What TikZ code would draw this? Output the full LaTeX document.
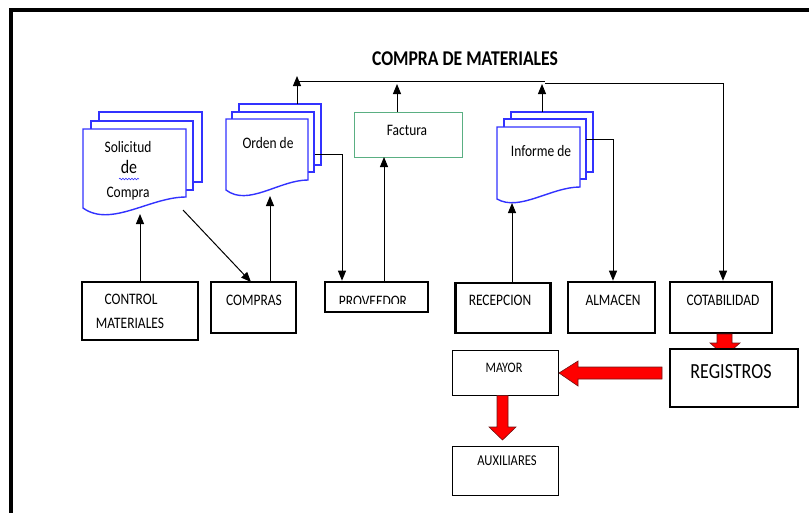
\documentclass[tikz,border=0pt]{standalone}
\usepackage{fontspec}
\setmainfont{Carlito}[FakeStretch=0.84]
\usetikzlibrary{arrows.meta,decorations.pathmorphing}
\definecolor{pageblue}{RGB}{50,50,255}
\definecolor{factgreen}{RGB}{90,175,130}
\definecolor{redline}{RGB}{110,20,20}
\tikzset{
  blk/.style={draw=black,line width=2.6pt,fill=white,inner sep=0pt},
  thinbox/.style={draw=black,line width=0.9pt,fill=white,inner sep=0pt},
  greenbox/.style={draw=factgreen,line width=1pt,fill=white,inner sep=0pt},
  pg/.style={draw=pageblue,line width=1.4pt,fill=white},
  conn/.style={line width=1pt,black},
  arr/.style={conn,-{Triangle[length=10pt,width=8pt]}},
  redarr/.style={fill=red,draw=redline,line width=0.6pt},
  lbl/.style={inner sep=0pt,anchor=base,font=\fontsize{16}{18}\selectfont},
}
\newcommand{\frontpg}[6]{% x1 yt x2 yR yL c
  \draw[pg] (#1,#2) -- (#3,#2) -- (#3,#4)
    .. controls ({#3-0.35*(#3-#1)},#4) and ({#1+0.27*(#3-#1)},#6) .. (#1,#5) -- cycle;}
\begin{document}
\begin{tikzpicture}[x=1pt,y=-1pt]
\useasboundingbox (0,0) rectangle (809,512);
% outer frame
\draw[line width=4pt] (11,514) -- (11,9.5) -- (811,9.5);
% title
\node[lbl,font=\fontsize{21}{24}\selectfont\bfseries] (title) at (465,65) {COMPRA DE MATERIALES};

% Solicitud de Compra
\draw[pg] (99,112) rectangle (202,182);
\draw[pg] (91,121) rectangle (193,190);
\frontpg{83}{129}{186}{197}{208}{228}
\node[lbl] (sol1) at (128,152) {Solicitud};
\node[lbl,font=\fontsize{19}{20}\selectfont] (sol2) at (129,173) {de};
\draw[pageblue,line width=0.6pt,decorate,decoration={snake,amplitude=0.8pt,segment length=3pt}] (119,179) -- (139,179);
\node[lbl] (sol3) at (128,197) {Compra};

% Orden de
\draw[pg] (239,104) rectangle (321,165);
\draw[pg] (232,112) rectangle (314,172);
\frontpg{226}{119}{308}{180}{190}{207}
\node[lbl] (ord) at (268,148) {Orden de};

% Factura
\node[greenbox,minimum width=108pt,minimum height=45pt] (factura) at (408,134.5) {};
\node[lbl] (facttxt) at (407,135) {Factura};

% Informe de
\draw[pg] (511,112) rectangle (593,172);
\draw[pg] (504,119) rectangle (586,179);
\frontpg{497}{127}{580}{187}{199}{212}
\node[lbl] (inf) at (541,156) {Informe de};

% bottom boxes
\node[blk,minimum width=116pt,minimum height=58pt] (control) at (140,311) {};
\node[lbl] (ctrl1) at (131,304) {CONTROL};
\node[lbl] (ctrl2) at (130,328) {MATERIALES};
\node[blk,minimum width=85pt,minimum height=51pt] (compras) at (253.5,307.5) {};
\node[lbl] (comptxt) at (254,305) {COMPRAS};
\node[blk,minimum width=103pt,minimum height=30pt] (proveedor) at (376.5,297) {};
\begin{scope}
  \clip (325,285) rectangle (428,303);
  \node[lbl] (provtxt) at (373,306) {PROVEEDOR};
\end{scope}
\node[blk,minimum width=95pt,minimum height=50pt] (recepcion) at (503,308) {};
\node[lbl] (rectxt) at (500,305) {RECEPCION};
\node[blk,minimum width=87pt,minimum height=51pt] (almacen) at (611.5,307.5) {};
\node[lbl] (almtxt) at (613,305) {ALMACEN};
\node[blk,minimum width=102pt,minimum height=51pt] (cotab) at (721,307.5) {};
\node[lbl] (cottxt) at (723,305) {COTABILIDAD};

% red arrow cotab -> registros
\draw[redarr] (717,334) -- (732,334) -- (732,343) -- (740,343) -- (725,356) -- (710,343) -- (717,343) -- cycle;
\node[blk,minimum width=128pt,minimum height=58pt] (registros) at (734,378) {};
\node[lbl,font=\fontsize{21.5}{24}\selectfont] (regtxt) at (731,378) {REGISTROS};

\node[thinbox,minimum width=106pt,minimum height=45pt] (mayor) at (505,372.5) {};
\node[lbl,font=\fontsize{14.5}{16}\selectfont] (maytxt) at (504,372) {MAYOR};
\node[thinbox,minimum width=106pt,minimum height=49pt] (aux) at (505,470.5) {};
\node[lbl,font=\fontsize{15}{16}\selectfont] (auxtxt) at (507,465) {AUXILIARES};

% red arrow registros -> mayor
\draw[redarr] (662,367) -- (662,379) -- (578,379) -- (578,386) -- (559,373) -- (578,361) -- (578,367) -- cycle;
% red arrow mayor -> auxiliares
\draw[redarr] (497,395.5) -- (508,395.5) -- (508,427) -- (516,427) -- (502.5,440) -- (489,427) -- (497,427) -- cycle;

% coordinates for connectors
\coordinate (solbot) at (140,214);
\coordinate (soldiag) at (183,210);
\coordinate (compin) at (251,282);
\coordinate (ordbot) at (270,196);
\coordinate (ordtop) at (297,104);
\coordinate (ordup) at (297,76);
\coordinate (topA) at (297,81);
\coordinate (topB) at (545,81);
\coordinate (topC) at (545,83);
\coordinate (topD) at (723,83);
\coordinate (factup) at (397,84);
\coordinate (inftop) at (542,112);
\coordinate (infup) at (542,84);
\coordinate (ordright) at (315,154);
\coordinate (ordturn) at (342,154);
\coordinate (provup) at (384,157);
\coordinate (infbot) at (512,203);
\coordinate (infright) at (586,139);
\coordinate (infturn) at (613,139);

% connectors
\draw[arr] (control.north -| solbot) -- (solbot);
\draw[arr] (soldiag) -- (compin);
\draw[arr] (compras.north -| ordbot) -- (ordbot);
\draw[arr] (ordtop) -- (ordup);
\draw[conn] (topA) -- (topB);
\draw[arr] (topC) -- (topD) -- (cotab.north -| topD);
\draw[arr] (factura.north -| factup) -- (factup);
\draw[arr] (inftop) -- (infup);
\draw[arr] (ordright) -- (ordturn) -- (proveedor.north -| ordturn);
\draw[arr] (proveedor.north -| provup) -- (provup);
\draw[arr] (recepcion.north -| infbot) -- (infbot);
\draw[arr] (infright) -- (infturn) -- (almacen.north -| infturn);
\end{tikzpicture}
\end{document}
